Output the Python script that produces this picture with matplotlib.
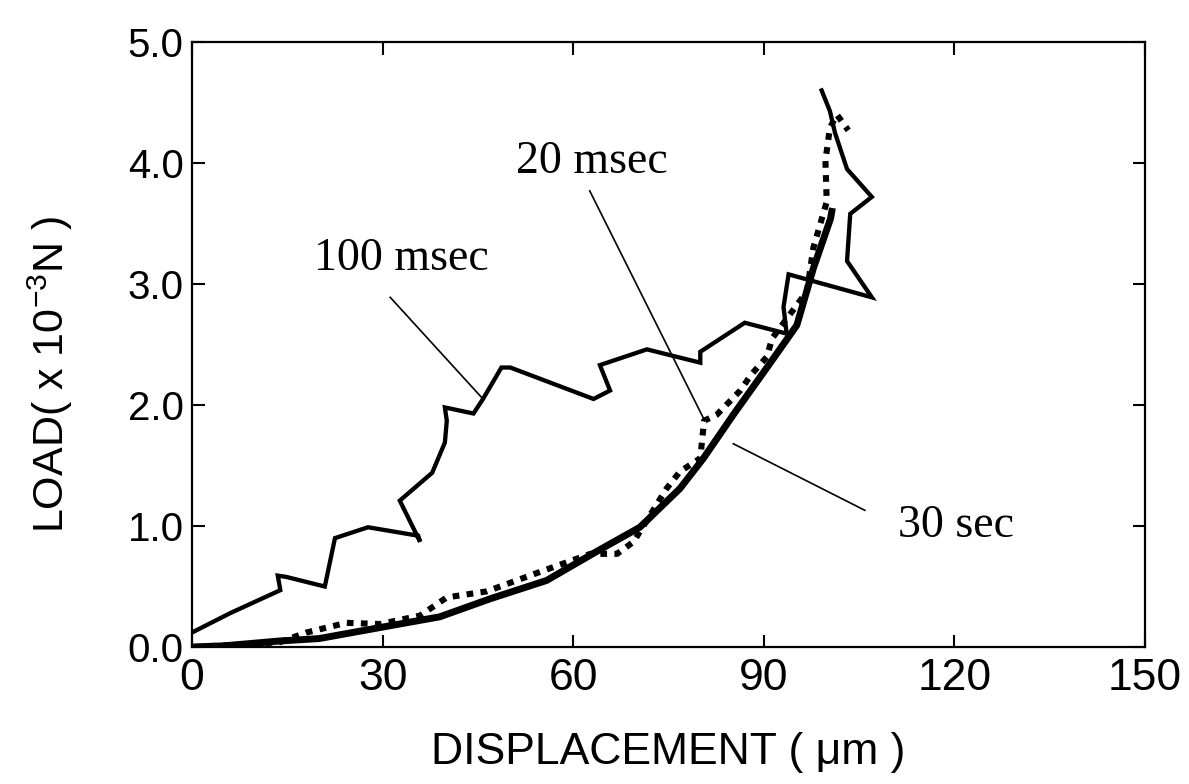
import matplotlib
matplotlib.use("Agg")
import matplotlib.pyplot as plt

plt.rcParams['font.family'] = ['Liberation Sans', 'DejaVu Sans']
plt.rcParams['mathtext.fontset'] = 'custom'
plt.rcParams['mathtext.rm'] = 'Liberation Sans'
plt.rcParams['mathtext.it'] = 'Liberation Sans:italic'

# load-displacement curves, displacement in um, load in 1e-3 N
x_100ms = [0.0, 6.0, 13.9, 13.5, 14.8, 20.9, 22.5, 27.7, 35.6, 35.9, 32.7, 37.8,
           39.8, 40.1, 39.8, 44.3, 45.8, 48.7, 50.1, 63.2, 65.8, 64.2, 71.6,
           80.0, 80.0, 87.0, 93.6, 93.1, 93.9, 107.0, 103.1, 103.6, 107.0,
           103.1, 101.2, 100.4, 99.1]
y_100ms = [0.12, 0.28, 0.47, 0.59, 0.58, 0.50, 0.90, 0.99, 0.92, 0.87, 1.21, 1.44,
           1.69, 1.87, 1.98, 1.93, 2.05, 2.31, 2.31, 2.05, 2.12, 2.33, 2.46,
           2.35, 2.44, 2.68, 2.59, 2.81, 3.08, 2.89, 3.19, 3.58, 3.72,
           3.95, 4.25, 4.43, 4.60]

x_20ms = [0.5, 13.8, 18.0, 24.3, 29.6, 35.9, 40.1, 46.4, 54.2, 62.7, 66.9, 69.5,
          74.7, 76.8, 80.0, 80.6, 82.6, 86.3, 88.0, 90.5, 91.3, 96.8, 97.8,
          99.9, 99.7, 100.4, 101.5, 103.3]
y_20ms = [0.0, 0.04, 0.12, 0.20, 0.19, 0.26, 0.41, 0.46, 0.61, 0.77, 0.77, 0.87,
          1.31, 1.45, 1.56, 1.87, 1.92, 2.12, 2.25, 2.40, 2.55, 2.94, 3.30,
          3.68, 4.02, 4.29, 4.40, 4.27]

x_30s = [0.0, 5.0, 13.8, 20.0, 30.0, 39.0, 47.0, 55.8, 63.7, 70.5, 76.8, 80.5,
         85.2, 90.5, 95.2, 97.8, 100.5, 100.7]
y_30s = [0.0, 0.01, 0.05, 0.07, 0.165, 0.25, 0.40, 0.55, 0.79, 0.99, 1.31, 1.56,
         1.92, 2.31, 2.66, 3.13, 3.54, 3.60]

xticks = [0, 30, 60, 90, 120, 150]
yticks = [0.0, 1.0, 2.0, 3.0, 4.0, 5.0]

fig = plt.figure(figsize=(11.89, 7.84), dpi=100)
ax = fig.add_axes([0.1615, 0.1747, 0.8015, 0.7717])

ax.plot(x_30s, y_30s, color='black', lw=5.0, solid_joinstyle='round')
ax.plot(x_100ms, y_100ms, color='black', lw=3.1, solid_joinstyle='miter')
ax.plot(x_20ms, y_20ms, color='black', lw=4.4, linestyle=(0, (1.1, 1.2)),
        dash_capstyle='butt')

# labels with leader lines
serif = ['Liberation Serif', 'DejaVu Serif']
ax.plot([31.2, 45.8], [2.89, 2.05], color='black', lw=1.2)
ax.text(33.0, 3.12, '100 msec', family=serif, fontsize=33, ha='center', va='baseline')
ax.plot([62.6, 80.7], [3.77, 1.87], color='black', lw=1.2)
ax.text(62.9, 3.92, '20 msec', family=serif, fontsize=33, ha='center', va='baseline')
ax.plot([85.2, 105.9], [1.68, 1.13], color='black', lw=1.2)
ax.text(120.3, 0.91, '30 sec', family=serif, fontsize=33, ha='center', va='baseline')

ax.set_xlim(0, 150)
ax.set_ylim(0, 5)
ax.set_xticks(xticks)
ax.set_yticks(yticks)
ax.set_xticklabels([str(t) for t in xticks])
ax.set_yticklabels(['%.1f' % t for t in yticks])
ax.tick_params(direction='in', length=9, width=1.5, top=True, right=True)
ax.tick_params(axis='x', labelsize=32, pad=8)
ax.tick_params(axis='y', labelsize=29, pad=6)
for s in ax.spines.values():
    s.set_linewidth(1.6)

ax.set_xlabel('DISPLACEMENT ( \u03bcm )', fontsize=32, labelpad=24)
ax.set_ylabel('LOAD( x 10$^{-3}$N )', fontsize=31)
ax.yaxis.set_label_coords(-0.123, 0.45)

fig.savefig('out.png', dpi=100)
